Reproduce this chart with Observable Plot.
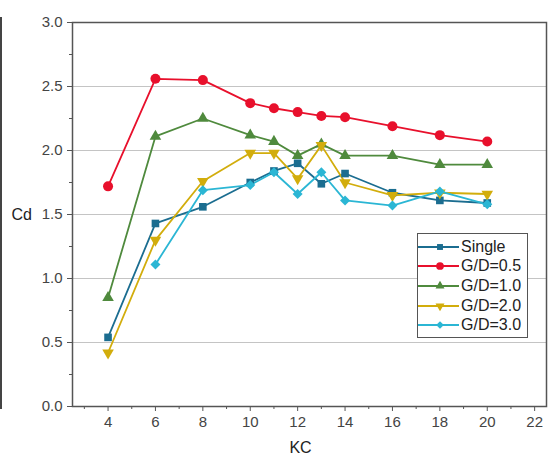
<!DOCTYPE html>
<html>
<head>
<meta charset="utf-8">
<script src="https://cdn.jsdelivr.net/npm/d3@7"></script>
<script src="https://cdn.jsdelivr.net/npm/@observablehq/plot@0.6"></script>
<style>
  body { margin: 0; background: #fff; font-family: "Liberation Sans", Arial, sans-serif; }
  #wrap { position: relative; width: 550px; height: 470px; }
  #edge { position: absolute; left: 0px; top: 17px; width: 2px; height: 392px; background: #444; z-index: 2; }
  #legend { position: absolute; left: 417px; top: 233px; width: 109px; height: 103px; border: 1px solid #555; background: #fff; z-index: 2; box-sizing: content-box; }
  .row { display: flex; align-items: center; height: 19.6px; }
  .row:first-child { margin-top: 3px; }
  .row svg { flex: none; }
  .row span { font-size: 16px; color: #222; margin-left: 1px; }
</style>
</head>
<body>
<div id="wrap"><div id="edge"></div></div>
<script>
const kc = [4, 6, 8, 10, 11, 12, 13, 14, 16, 18, 20];
const seriesNames = ["Single", "G/D=0.5", "G/D=1.0", "G/D=2.0", "G/D=3.0"];
const single = [0.54, 1.43, 1.56, 1.75, 1.84, 1.90, 1.74, 1.82, 1.67, 1.61, 1.59];
const gd05 = [1.72, 2.56, 2.55, 2.37, 2.33, 2.30, 2.27, 2.26, 2.19, 2.12, 2.07];
const gd10 = [0.85, 2.11, 2.25, 2.12, 2.07, 1.96, 2.05, 1.96, 1.96, 1.89, 1.89];
const gd20 = [0.42, 1.30, 1.76, 1.98, 1.98, 1.78, 2.04, 1.75, 1.65, 1.67, 1.66];
const gd30 = [null, 1.11, 1.69, 1.73, 1.83, 1.66, 1.83, 1.61, 1.57, 1.68, 1.58];
const colors = ["#1b6d90", "#e8102c", "#4f8a3d", "#d2ad0c", "#2bb6d4"];
const xMajor = [4, 6, 8, 10, 12, 14, 16, 18, 20, 22];
const xMinor = [3, 5, 7, 9, 11, 13, 15, 17, 19, 21];
const yMajor = [0, 0.5, 1, 1.5, 2, 2.5, 3];
const yMinor = [0.25, 0.75, 1.25, 1.75, 2.25, 2.75];
const yGrid = [0.5, 1, 1.5, 2, 2.5];

const triangleDown = {
  draw(context, size) {
    const sqrt3 = Math.sqrt(3);
    const y = Math.sqrt(size / (sqrt3 * 3));
    context.moveTo(0, y * 2);
    context.lineTo(-sqrt3 * y, -y);
    context.lineTo(sqrt3 * y, -y);
    context.closePath();
  }
};
const symbols = ["square", "circle", "triangle", triangleDown, "diamond2"];
const radii = [4.3, 5, 4.3, 4.3, 4.5];

const allValues = [single, gd05, gd10, gd20, gd30];
const data = [];
allValues.forEach((vals, s) => {
  vals.forEach((v, i) => {
    if (v != null) data.push({ kc: kc[i], cd: v, series: seriesNames[s] });
  });
});

const lineMarks = seriesNames.map((name, s) =>
  Plot.line(data.filter(d => d.series === name), { x: "kc", y: "cd", stroke: colors[s], strokeWidth: 1.8 })
);
const dotMarks = seriesNames.map((name, s) =>
  Plot.dot(data.filter(d => d.series === name), { x: "kc", y: "cd", fill: colors[s], stroke: "none", symbol: () => symbols[s], r: radii[s] })
);

const chart = Plot.plot({
  width: 550,
  height: 470,
  marginLeft: 72,
  marginRight: 4,
  marginTop: 22,
  marginBottom: 64,
  style: { fontFamily: "Liberation Sans, Arial, sans-serif", background: "#fff" },
  x: { domain: [2.5, 22.5], label: null },
  y: { domain: [0, 3], label: null },
  symbol: { type: "identity" },
  marks: [
    Plot.gridY(yGrid, { stroke: "#c4c4c4", strokeOpacity: 1, strokeWidth: 1 }),
    Plot.axisX(xMajor, { tickSize: 5, tickPadding: 5, fontSize: 15, color: "#444", stroke: "#555", tickFormat: d => String(d) }),
    Plot.axisX(xMinor, { tickSize: 3, text: null, stroke: "#555" }),
    Plot.axisY(yMajor, { tickSize: 5, tickPadding: 5, fontSize: 15, color: "#444", stroke: "#555", tickFormat: d3.format(".1f") }),
    Plot.axisY(yMinor, { tickSize: 3, text: null, stroke: "#555" }),
    ...lineMarks,
    ...dotMarks,
    Plot.frame({ stroke: "#555", strokeWidth: 1.5 }),
    Plot.text(["Cd"], { frameAnchor: "left", dx: -61, fontSize: 16, fill: "#222", textAnchor: "start" }),
    Plot.text(["KC"], { frameAnchor: "bottom", dy: 46, dx: -9, fontSize: 16, fill: "#222" })
  ]
});
const wrap = document.getElementById("wrap");
wrap.appendChild(chart);
chart.style.position = "absolute";
chart.style.left = "0";
chart.style.top = "0";

const legend = document.createElement("div");
legend.id = "legend";
seriesNames.forEach((name, s) => {
  const row = document.createElement("div");
  row.className = "row";
  const svg = d3.create("svg").attr("width", 42).attr("height", 20);
  svg.append("line").attr("x1", 0).attr("x2", 41).attr("y1", 10).attr("y2", 10).attr("stroke", colors[s]).attr("stroke-width", 1.8);
  const sym = typeof symbols[s] === "string" ? {
    square: d3.symbolSquare, circle: d3.symbolCircle, triangle: d3.symbolTriangle, diamond2: d3.symbolDiamond2
  }[symbols[s]] : symbols[s];
  svg.append("path").attr("transform", "translate(22,10)").attr("fill", colors[s])
    .attr("d", d3.symbol(sym, Math.PI * radii[s] * radii[s] * 0.6)());
  row.appendChild(svg.node());
  const t = document.createElement("span");
  t.textContent = name;
  row.appendChild(t);
  legend.appendChild(row);
});
wrap.appendChild(legend);
</script>
</body>
</html>
